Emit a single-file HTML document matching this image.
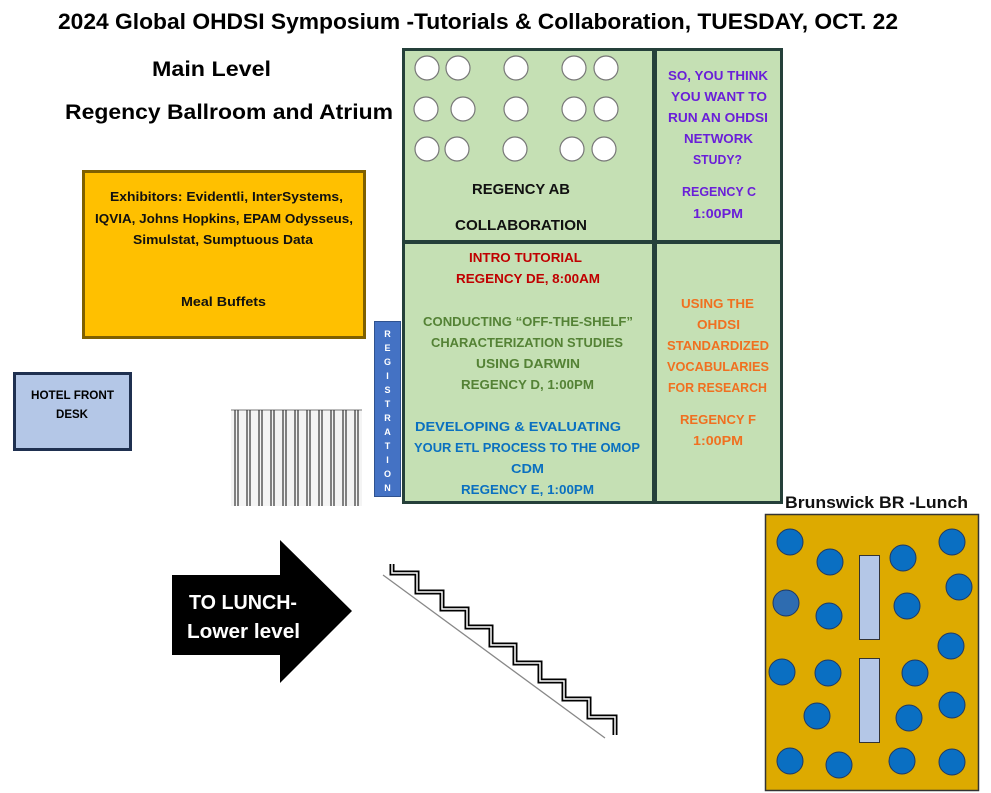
<!DOCTYPE html>
<html><head><meta charset="utf-8"><style>
html,body{margin:0;padding:0;background:#fff;}
svg{display:block;font-family:"Liberation Sans",sans-serif;font-weight:bold;}
</style></head><body>
<svg width="991" height="793" viewBox="0 0 991 793" xmlns="http://www.w3.org/2000/svg">
<rect width="991" height="793" fill="#fff"/>
<!-- titles -->
<text x="58" y="29" font-size="22" textLength="840" lengthAdjust="spacingAndGlyphs">2024 Global OHDSI Symposium -Tutorials &amp; Collaboration, TUESDAY, OCT. 22</text>
<text x="152" y="76" font-size="21" textLength="119" lengthAdjust="spacingAndGlyphs">Main Level</text>
<text x="65" y="119" font-size="21" textLength="328" lengthAdjust="spacingAndGlyphs">Regency Ballroom and Atrium</text>

<!-- exhibitors -->
<rect x="83.5" y="171.5" width="281" height="166" fill="#ffc000" stroke="#7f6000" stroke-width="3"/>
<g font-size="13" fill="#111">
<text x="110" y="201" textLength="233" lengthAdjust="spacingAndGlyphs">Exhibitors: Evidentli, InterSystems,</text>
<text x="95" y="223" textLength="258" lengthAdjust="spacingAndGlyphs">IQVIA, Johns Hopkins, EPAM Odysseus,</text>
<text x="133" y="244" textLength="180" lengthAdjust="spacingAndGlyphs">Simulstat, Sumptuous Data</text>
<text x="181" y="306" textLength="85" lengthAdjust="spacingAndGlyphs">Meal Buffets</text>
</g>

<!-- hotel front desk -->
<rect x="14.5" y="373.5" width="116" height="76" fill="#b4c7e7" stroke="#1f3050" stroke-width="3"/>
<text x="31" y="399" font-size="12" textLength="83" lengthAdjust="spacingAndGlyphs">HOTEL FRONT</text>
<text x="56" y="418" font-size="12" textLength="32" lengthAdjust="spacingAndGlyphs">DESK</text>

<!-- railing -->
<rect x="231" y="410" width="131" height="96" fill="#f4f4f4"/>
<line x1="231" y1="410" x2="362" y2="410" stroke="#777" stroke-width="1"/>
<g stroke="#333" stroke-width="1.2">
<line x1="235" y1="410" x2="235" y2="506"/><line x1="238" y1="410" x2="238" y2="506"/>
<line x1="247" y1="410" x2="247" y2="506"/><line x1="250" y1="410" x2="250" y2="506"/>
<line x1="259" y1="410" x2="259" y2="506"/><line x1="262" y1="410" x2="262" y2="506"/>
<line x1="271" y1="410" x2="271" y2="506"/><line x1="274" y1="410" x2="274" y2="506"/>
<line x1="283" y1="410" x2="283" y2="506"/><line x1="286" y1="410" x2="286" y2="506"/>
<line x1="295" y1="410" x2="295" y2="506"/><line x1="298" y1="410" x2="298" y2="506"/>
<line x1="307" y1="410" x2="307" y2="506"/><line x1="310" y1="410" x2="310" y2="506"/>
<line x1="319" y1="410" x2="319" y2="506"/><line x1="322" y1="410" x2="322" y2="506"/>
<line x1="331" y1="410" x2="331" y2="506"/><line x1="334" y1="410" x2="334" y2="506"/>
<line x1="343" y1="410" x2="343" y2="506"/><line x1="346" y1="410" x2="346" y2="506"/>
<line x1="355" y1="410" x2="355" y2="506"/><line x1="358" y1="410" x2="358" y2="506"/>
</g>

<!-- registration -->
<rect x="374.5" y="321.5" width="26" height="175" fill="#4472c4" stroke="#2f528f" stroke-width="1"/>
<g font-size="9" fill="#fff" text-anchor="middle">
<text x="387.5" y="337">R</text><text x="387.5" y="351">E</text><text x="387.5" y="365">G</text>
<text x="387.5" y="379">I</text><text x="387.5" y="393">S</text><text x="387.5" y="407">T</text>
<text x="387.5" y="421">R</text><text x="387.5" y="435">A</text><text x="387.5" y="449">T</text>
<text x="387.5" y="463">I</text><text x="387.5" y="477">O</text><text x="387.5" y="491">N</text>
</g>

<!-- rooms -->
<g fill="#c5e0b4" stroke="#25403a" stroke-width="3">
<rect x="403.5" y="49.5" width="250" height="192"/>
<rect x="655.5" y="49.5" width="126" height="192"/>
<rect x="403.5" y="242.5" width="250" height="260"/>
<rect x="655.5" y="242.5" width="126" height="260"/>
</g>
<g fill="#fff" stroke="#777" stroke-width="1.2">
<circle cx="427" cy="68" r="12"/><circle cx="458" cy="68" r="12"/><circle cx="516" cy="68" r="12"/><circle cx="574" cy="68" r="12"/><circle cx="606" cy="68" r="12"/>
<circle cx="426" cy="109" r="12"/><circle cx="463" cy="109" r="12"/><circle cx="516" cy="109" r="12"/><circle cx="574" cy="109" r="12"/><circle cx="606" cy="109" r="12"/>
<circle cx="427" cy="149" r="12"/><circle cx="457" cy="149" r="12"/><circle cx="515" cy="149" r="12"/><circle cx="572" cy="149" r="12"/><circle cx="604" cy="149" r="12"/>
</g>
<text x="472" y="194" font-size="15" fill="#111" textLength="98" lengthAdjust="spacingAndGlyphs">REGENCY AB</text>
<text x="455" y="230" font-size="15" fill="#111" textLength="132" lengthAdjust="spacingAndGlyphs">COLLABORATION</text>

<g font-size="13" fill="#6a1fd8">
<text x="668" y="80" textLength="100" lengthAdjust="spacingAndGlyphs">SO, YOU THINK</text>
<text x="671" y="101" textLength="96" lengthAdjust="spacingAndGlyphs">YOU WANT TO</text>
<text x="668" y="122" textLength="100" lengthAdjust="spacingAndGlyphs">RUN AN OHDSI</text>
<text x="684" y="143" textLength="69" lengthAdjust="spacingAndGlyphs">NETWORK</text>
<text x="693" y="164" textLength="49" lengthAdjust="spacingAndGlyphs">STUDY?</text>
<text x="682" y="196" textLength="74" lengthAdjust="spacingAndGlyphs">REGENCY C</text>
<text x="693" y="218" textLength="50" lengthAdjust="spacingAndGlyphs">1:00PM</text>
</g>

<g font-size="13" fill="#c00000">
<text x="469" y="262" textLength="113" lengthAdjust="spacingAndGlyphs">INTRO TUTORIAL</text>
<text x="456" y="283" textLength="144" lengthAdjust="spacingAndGlyphs">REGENCY DE, 8:00AM</text>
</g>
<g font-size="13" fill="#548235">
<text x="423" y="326" textLength="210" lengthAdjust="spacingAndGlyphs">CONDUCTING “OFF-THE-SHELF”</text>
<text x="431" y="347" textLength="192" lengthAdjust="spacingAndGlyphs">CHARACTERIZATION STUDIES</text>
<text x="476" y="368" textLength="104" lengthAdjust="spacingAndGlyphs">USING DARWIN</text>
<text x="461" y="389" textLength="133" lengthAdjust="spacingAndGlyphs">REGENCY D, 1:00PM</text>
</g>
<g font-size="13" fill="#0a70c0">
<text x="415" y="431" textLength="206" lengthAdjust="spacingAndGlyphs">DEVELOPING &amp; EVALUATING</text>
<text x="414" y="452" textLength="226" lengthAdjust="spacingAndGlyphs">YOUR ETL PROCESS TO THE OMOP</text>
<text x="511" y="473" textLength="33" lengthAdjust="spacingAndGlyphs">CDM</text>
<text x="461" y="494" textLength="133" lengthAdjust="spacingAndGlyphs">REGENCY E, 1:00PM</text>
</g>
<g font-size="13" fill="#f07020">
<text x="681" y="308" textLength="73" lengthAdjust="spacingAndGlyphs">USING THE</text>
<text x="697" y="329" textLength="43" lengthAdjust="spacingAndGlyphs">OHDSI</text>
<text x="667" y="350" textLength="102" lengthAdjust="spacingAndGlyphs">STANDARDIZED</text>
<text x="667" y="371" textLength="102" lengthAdjust="spacingAndGlyphs">VOCABULARIES</text>
<text x="668" y="392" textLength="99" lengthAdjust="spacingAndGlyphs">FOR RESEARCH</text>
<text x="680" y="424" textLength="76" lengthAdjust="spacingAndGlyphs">REGENCY  F</text>
<text x="693" y="445" textLength="50" lengthAdjust="spacingAndGlyphs">1:00PM</text>
</g>

<!-- arrow -->
<polygon points="172,575 280,575 280,540 352,611 280,683 280,655 172,655" fill="#000"/>
<text x="189" y="609" font-size="20" fill="#fff" textLength="108" lengthAdjust="spacingAndGlyphs">TO LUNCH-</text>
<text x="187" y="638" font-size="20" fill="#fff" textLength="113" lengthAdjust="spacingAndGlyphs">Lower level</text>

<!-- stairs -->
<line x1="383" y1="575" x2="605" y2="738" stroke="#888" stroke-width="1.3"/>
<path d="M392,564 V573 H417 V592 H442 V609 H467 V627 H491 V645 H515 V663 H540 V681 H564 V699 H589 V717 H615 V735" fill="none" stroke="#000" stroke-width="5"/>
<path d="M392,564 V573 H417 V592 H442 V609 H467 V627 H491 V645 H515 V663 H540 V681 H564 V699 H589 V717 H615 V735" fill="none" stroke="#fff" stroke-width="1.5"/>

<!-- brunswick -->
<text x="785" y="508" font-size="17" fill="#111" textLength="183" lengthAdjust="spacingAndGlyphs">Brunswick BR -Lunch</text>
<rect x="765.5" y="514.5" width="213" height="276" fill="#ddaa00" stroke="#333" stroke-width="1.5"/>
<g fill="#b4c7e7" stroke="#333" stroke-width="1">
<rect x="859.5" y="555.5" width="20" height="84"/>
<rect x="859.5" y="658.5" width="20" height="84"/>
</g>
<g fill="#0a6fc2" stroke="#1f3864" stroke-width="1">
<circle cx="790" cy="542" r="13"/><circle cx="830" cy="562" r="13"/><circle cx="903" cy="558" r="13"/><circle cx="952" cy="542" r="13"/>
<circle cx="959" cy="587" r="13"/><circle cx="786" cy="603" r="13" fill="#2e6cb0"/><circle cx="829" cy="616" r="13"/><circle cx="907" cy="606" r="13"/>
<circle cx="951" cy="646" r="13"/><circle cx="782" cy="672" r="13"/><circle cx="828" cy="673" r="13"/><circle cx="915" cy="673" r="13"/>
<circle cx="817" cy="716" r="13"/><circle cx="909" cy="718" r="13"/><circle cx="952" cy="705" r="13"/>
<circle cx="790" cy="761" r="13"/><circle cx="839" cy="765" r="13"/><circle cx="902" cy="761" r="13"/><circle cx="952" cy="762" r="13"/>
</g>
</svg>
</body></html>
